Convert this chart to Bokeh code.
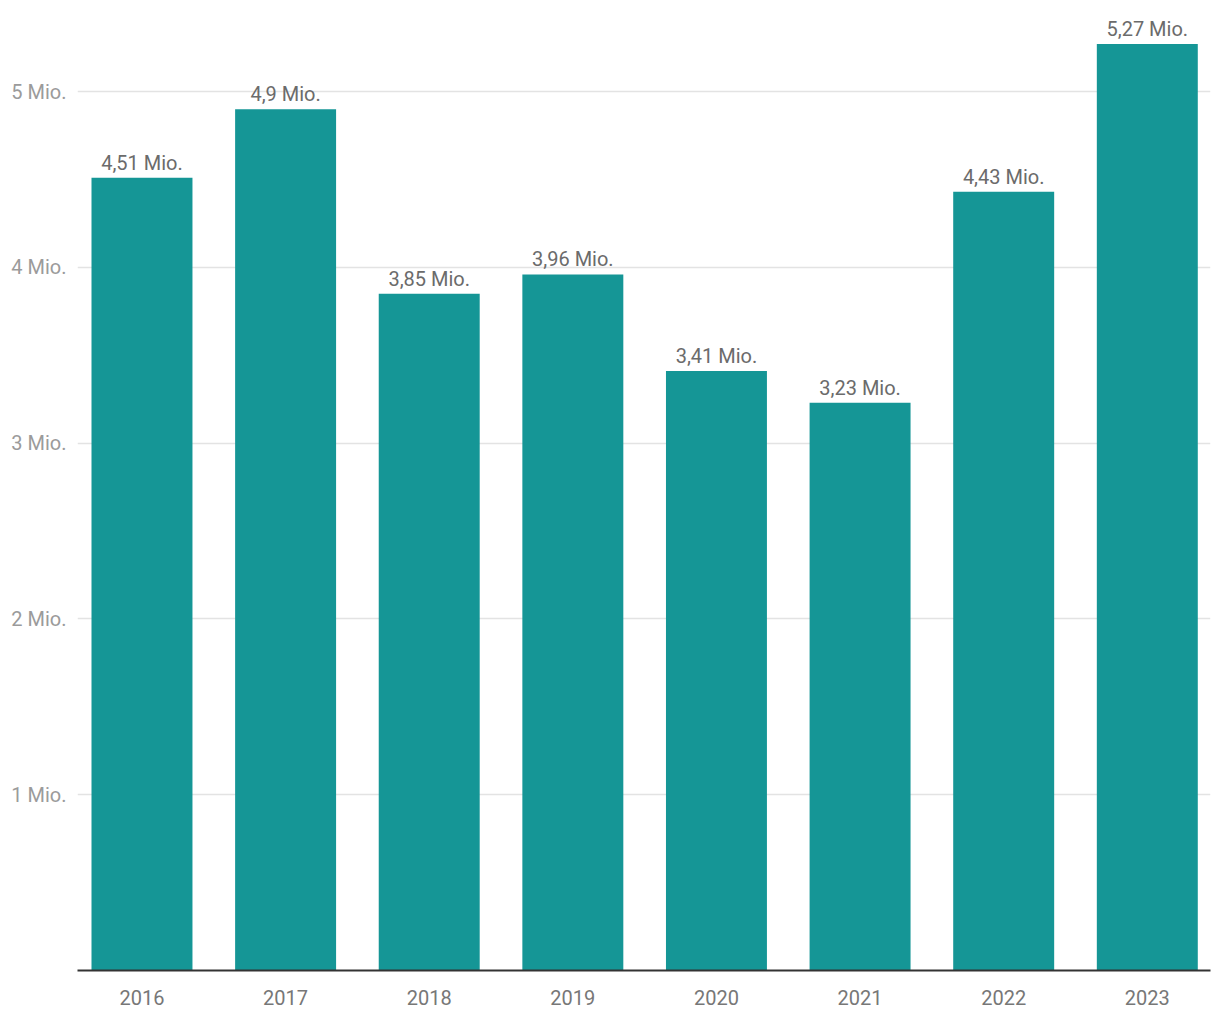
from bokeh.plotting import figure
from bokeh.models import ColumnDataSource, FixedTicker, Range1d
from bokeh.embed import file_html
from bokeh.resources import INLINE
from bokeh.core.properties import value

years = ["2016", "2017", "2018", "2019", "2020", "2021", "2022", "2023"]
values = [4.51, 4.90, 3.85, 3.96, 3.41, 3.23, 4.43, 5.27]
bar_labels = ["4,51 Mio.", "4,9 Mio.", "3,85 Mio.", "3,96 Mio.", "3,41 Mio.", "3,23 Mio.", "4,43 Mio.", "5,27 Mio."]
y_ticks = [1, 2, 3, 4, 5]
y_tick_labels = ["1 Mio.", "2 Mio.", "3 Mio.", "4 Mio.", "5 Mio."]

FONT = "Roboto"
xs = list(range(len(years)))
src = ColumnDataSource(dict(x=xs, top=values, label=bar_labels))

p = figure(width=1212, height=1012, output_backend="svg", toolbar_location=None,
           x_range=Range1d(-0.449, 7.44), y_range=Range1d(0, 5.518),
           min_border_left=77, min_border_right=2, min_border_top=0, min_border_bottom=42)
p.outline_line_color = None
p.background_fill_color = "white"
p.border_fill_color = "white"

p.vbar(x="x", top="top", bottom=0, width=0.703, source=src, fill_color="#159696", line_color=None)
p.text(x="x", y="top", text="label", source=src, text_align="center", text_baseline="bottom",
       y_offset=-3, text_font=value(FONT), text_font_size="20px", text_color="#6b6b6b")

p.xgrid.visible = False
p.ygrid.ticker = FixedTicker(ticks=y_ticks)
p.ygrid.grid_line_color = "#e3e3e3"
p.ygrid.grid_line_width = 1.5

p.yaxis.ticker = FixedTicker(ticks=y_ticks)
p.yaxis.major_label_overrides = {t: l for t, l in zip(y_ticks, y_tick_labels)}
p.yaxis.axis_line_color = None
p.yaxis.major_tick_line_color = None
p.yaxis.minor_tick_line_color = None
p.yaxis.major_label_standoff = 5
p.yaxis.major_label_text_font = FONT
p.yaxis.major_label_text_font_size = "20px"
p.yaxis.major_label_text_color = "#9b9b9b"

p.xaxis.ticker = FixedTicker(ticks=xs)
p.xaxis.major_label_overrides = {i: y for i, y in zip(xs, years)}
p.xaxis.axis_line_color = "#333333"
p.xaxis.axis_line_width = 2
p.xaxis.major_tick_line_color = None
p.xaxis.minor_tick_line_color = None
p.xaxis.major_label_standoff = 13
p.xaxis.major_label_text_font = FONT
p.xaxis.major_label_text_font_size = "20px"
p.xaxis.major_label_text_color = "#777777"

open("out.html", "w").write(file_html(p, INLINE))
